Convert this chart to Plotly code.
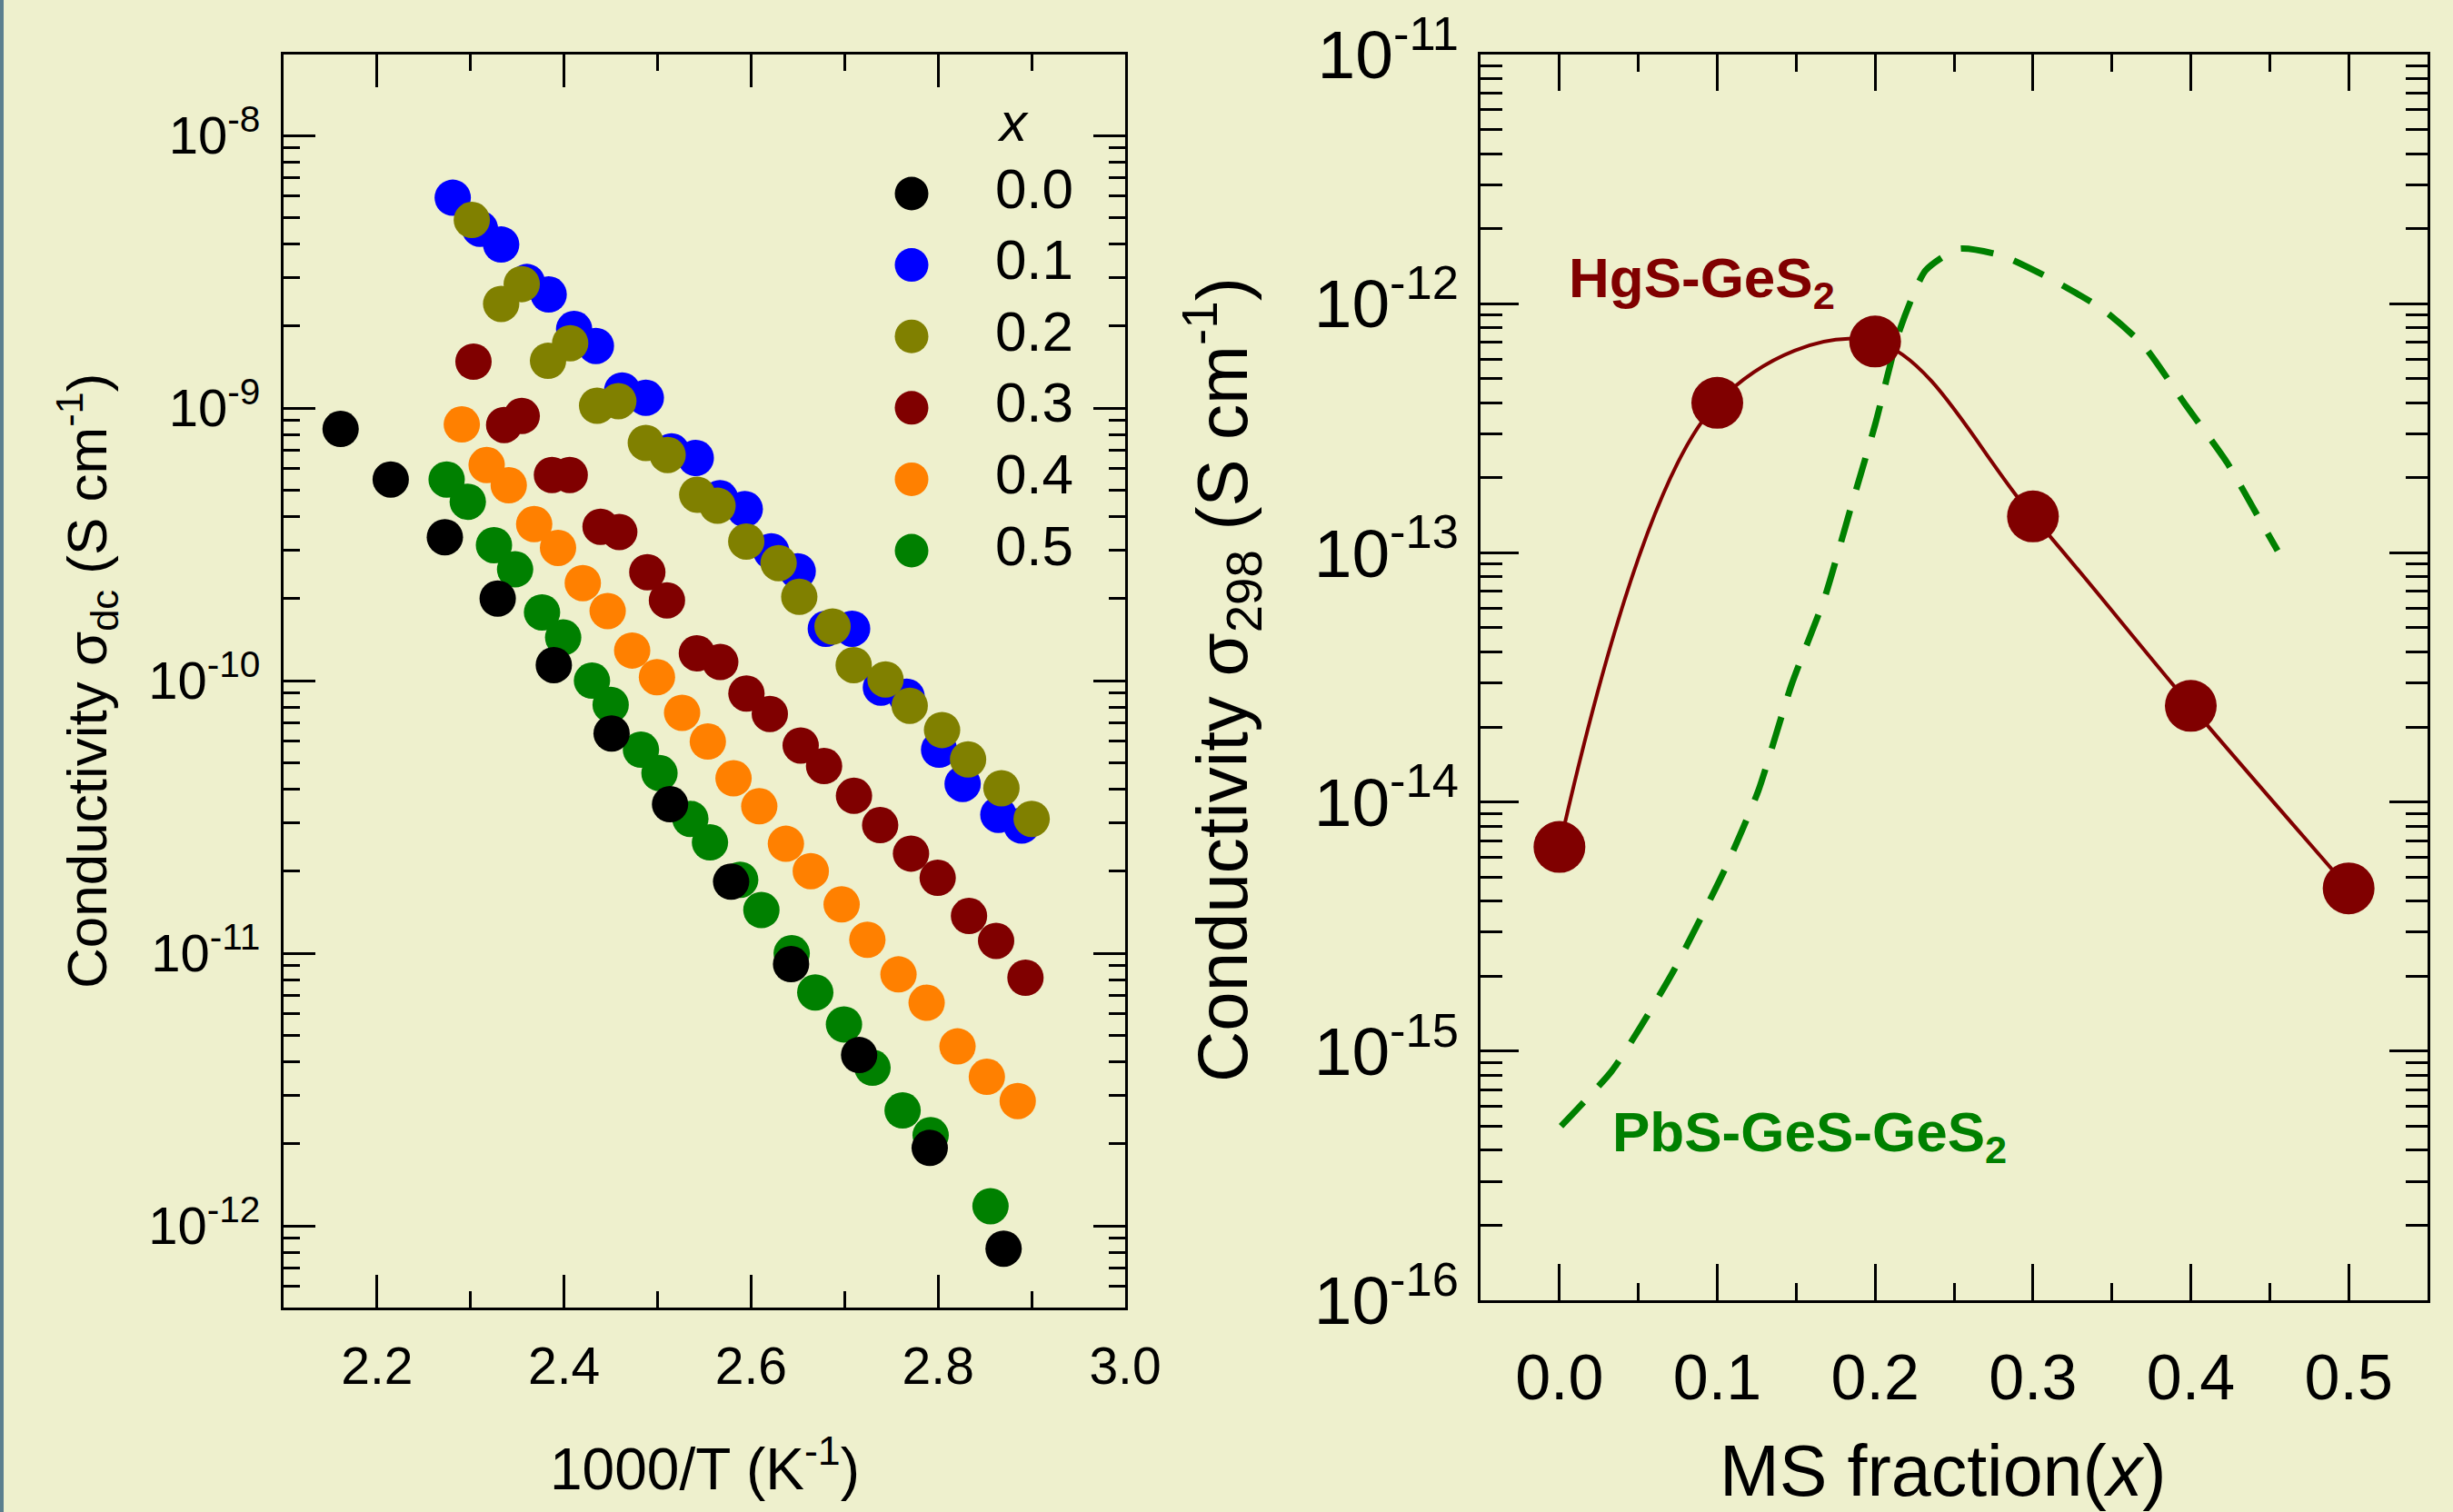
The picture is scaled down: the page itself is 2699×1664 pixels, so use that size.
import plotly.graph_objects as go

W, H = 2699, 1664
BG = "#EEF0CD"
FONT = "Liberation Sans, Arial, sans-serif"

# ---------------- left panel data: 1000/T (K^-1) vs sigma_dc (S/cm) ----------------
x_00 = [2.161, 2.2146, 2.2725, 2.329, 2.389, 2.4508, 2.5133, 2.5786, 2.6427, 2.7155, 2.791, 2.870]
y_00 = [8.38e-10, 5.47e-10, 3.36e-10, 2.00e-10, 1.14e-10, 6.40e-11, 3.52e-11, 1.83e-11,
        9.12e-12, 4.23e-12, 1.93e-12, 8.24e-13]

x_01 = [2.2809, 2.310, 2.3327, 2.3602, 2.3835, 2.4107, 2.434, 2.4621, 2.4874, 2.5149, 2.5408,
        2.5667, 2.5932, 2.6216, 2.6498, 2.6799, 2.708, 2.7388, 2.7663, 2.801, 2.8262, 2.8644, 2.8893]
y_01 = [5.91e-9, 4.55e-9, 3.98e-9, 2.90e-9, 2.61e-9, 1.95e-9, 1.69e-9, 1.16e-9, 1.09e-9, 6.93e-10,
        6.56e-10, 4.67e-10, 4.26e-10, 2.98e-10, 2.52e-10, 1.55e-10, 1.55e-10, 9.43e-11, 8.73e-11,
        5.58e-11, 4.18e-11, 3.22e-11, 2.94e-11]

x_02 = [2.3013, 2.3327, 2.3547, 2.3828, 2.4065, 2.4353, 2.458, 2.4874, 2.5107, 2.5424, 2.5641,
        2.5948, 2.6294, 2.6515, 2.6871, 2.7097, 2.7437, 2.7696, 2.8042, 2.832, 2.8677, 2.900]
y_02 = [4.90e-9, 2.41e-9, 2.85e-9, 1.49e-9, 1.73e-9, 1.02e-9, 1.06e-9, 7.45e-10, 6.73e-10, 4.81e-10,
        4.38e-10, 3.24e-10, 2.70e-10, 2.03e-10, 1.58e-10, 1.14e-10, 1.01e-10, 8.09e-11, 6.59e-11,
        5.14e-11, 4.03e-11, 3.11e-11]

x_03 = [2.3031, 2.3359, 2.3547, 2.387, 2.406, 2.439, 2.459, 2.489, 2.510, 2.542, 2.567,
        2.595, 2.620, 2.653, 2.678, 2.710, 2.738, 2.771, 2.7995, 2.833, 2.862, 2.8934]
y_03 = [1.48e-9, 8.67e-10, 9.35e-10, 5.68e-10, 5.68e-10, 3.67e-10, 3.51e-10, 2.50e-10, 1.97e-10,
        1.26e-10, 1.17e-10, 8.97e-11, 7.55e-11, 5.78e-11, 4.86e-11, 3.78e-11, 2.95e-11, 2.32e-11,
        1.89e-11, 1.37e-11, 1.11e-11, 8.13e-12]

x_04 = [2.2906, 2.3172, 2.3408, 2.368, 2.3935, 2.420, 2.4466, 2.4728, 2.4993, 2.5262, 2.5537,
        2.5812, 2.6087, 2.6372, 2.6638, 2.6968, 2.7243, 2.7576, 2.7877, 2.8207, 2.8521, 2.8851]
y_04 = [8.71e-10, 6.18e-10, 5.21e-10, 3.75e-10, 3.07e-10, 2.28e-10, 1.80e-10, 1.29e-10, 1.03e-10,
        7.62e-11, 5.98e-11, 4.38e-11, 3.46e-11, 2.52e-11, 2.00e-11, 1.51e-11, 1.12e-11, 8.36e-12,
        6.58e-12, 4.55e-12, 3.52e-12, 2.87e-12]

x_05 = [2.2744, 2.297, 2.325, 2.3476, 2.3764, 2.399, 2.4298, 2.4498, 2.4822, 2.502, 2.535,
        2.556, 2.5883, 2.611, 2.6434, 2.6686, 2.6993, 2.7298, 2.762, 2.792, 2.856]
y_05 = [5.47e-10, 4.53e-10, 3.14e-10, 2.56e-10, 1.78e-10, 1.44e-10, 1.00e-10, 8.15e-11, 5.58e-11,
        4.58e-11, 3.11e-11, 2.55e-11, 1.86e-11, 1.44e-11, 1.00e-11, 7.18e-12, 5.48e-12, 3.80e-12,
        2.65e-12, 2.15e-12, 1.18e-12]

legend_labels = ["0.0", "0.1", "0.2", "0.3", "0.4", "0.5"]
legend_colors = ["#000000", "#0000FF", "#808000", "#800000", "#FF8000", "#008000"]

# ---------------- right panel data: MS fraction vs sigma_298 ----------------
frac_hgs = [0.0, 0.1, 0.2, 0.3, 0.4, 0.5]
sig_hgs = [6.6e-15, 4.0e-13, 7.05e-13, 1.40e-13, 2.43e-14, 4.5e-15]

frac_pbs = [0.001, 0.033, 0.051, 0.073, 0.105, 0.126, 0.147, 0.168, 0.184, 0.200, 0.216,
            0.232, 0.253, 0.280, 0.311, 0.344, 0.370, 0.397, 0.423, 0.444, 0.455]
sig_pbs = [5.0e-16, 8.3e-16, 1.24e-15, 2.14e-15, 5.4e-15, 1.11e-14, 2.95e-14, 6.6e-14, 1.47e-13,
           3.27e-13, 7.98e-13, 1.36e-12, 1.66e-12, 1.56e-12, 1.26e-12, 9.5e-13, 6.8e-13, 3.9e-13,
           2.3e-13, 1.35e-13, 1.02e-13]

left_xticks = [2.2, 2.4, 2.6, 2.8, 3.0]
left_xminor = [2.1, 2.3, 2.5, 2.7, 2.9]
left_yexp = [-12, -11, -10, -9, -8]
right_xticks = [0.0, 0.1, 0.2, 0.3, 0.4, 0.5]
right_xminor = [0.05, 0.15, 0.25, 0.35, 0.45]
right_yexp = [-16, -15, -14, -13, -12, -11]


def px(X):
    return X / W


def py(Y):
    return 1 - Y / H


fig = go.Figure()

# left panel scatter series (drawing order: olive above blue, black on top)
draw = [(x_01, y_01, 1), (x_02, y_02, 2), (x_03, y_03, 3), (x_04, y_04, 4), (x_05, y_05, 5), (x_00, y_00, 0)]
for xs, ys, idx in draw:
    fig.add_trace(go.Scatter(x=xs, y=ys, mode="markers", xaxis="x", yaxis="y", showlegend=False,
                             marker=dict(size=40, color=legend_colors[idx], line=dict(width=0))))

# custom legend (large markers) on its own hidden axes
fig.add_trace(go.Scatter(x=[0] * len(legend_labels), y=list(range(len(legend_labels))), mode="markers",
                         xaxis="x3", yaxis="y3", showlegend=False, cliponaxis=False,
                         marker=dict(size=37, color=legend_colors, line=dict(width=0))))
fig.add_trace(go.Scatter(x=[1] * len(legend_labels), y=list(range(len(legend_labels))), mode="text",
                         text=legend_labels, textposition="middle center", xaxis="x3", yaxis="y3",
                         showlegend=False, cliponaxis=False,
                         textfont=dict(size=62, color="black", family=FONT)))

# right panel
fig.add_trace(go.Scatter(x=frac_pbs, y=sig_pbs, mode="lines", xaxis="x2", yaxis="y2", showlegend=False,
                         line=dict(color="#008000", width=7, dash="36px,24px", shape="spline", smoothing=0.6)))
fig.add_trace(go.Scatter(x=frac_hgs, y=sig_hgs, mode="lines+markers", xaxis="x2", yaxis="y2",
                         showlegend=False,
                         line=dict(color="#800000", width=4, shape="spline", smoothing=1.0),
                         marker=dict(size=57, color="#800000", line=dict(width=0))))


def log_minor(e0, e1):
    return [m * 10.0 ** e for e in range(e0, e1) for m in range(2, 10)]


def pow_text(e):
    return "10<sup>%d</sup>" % e


axis_common = dict(showline=True, linecolor="black", linewidth=3, mirror="ticks", ticks="inside",
                   tickwidth=3, tickcolor="black", showgrid=False, zeroline=False, automargin=False)

fig.update_layout(
    width=W, height=H, autosize=False,
    margin=dict(l=0, r=0, t=0, b=0, pad=0, autoexpand=False),
    paper_bgcolor=BG, plot_bgcolor=BG, font=dict(family=FONT, color="black"),
    showlegend=False,
    xaxis=dict(axis_common, domain=[px(312), px(1238)], range=[2.1, 3.0], anchor="y",
               tickmode="array", tickvals=left_xticks, ticktext=["%.1f" % v for v in left_xticks],
               ticklen=36, ticklabelstandoff=13, tickfont=dict(size=57),
               minor=dict(tickmode="array", tickvals=left_xminor, ticks="inside", ticklen=18,
                          tickwidth=3, tickcolor="black", showgrid=False)),
    yaxis=dict(axis_common, domain=[py(1439), py(60)], type="log", range=[-12.3, -7.703], anchor="x",
               tickmode="array", tickvals=[10.0 ** e for e in left_yexp],
               ticktext=[pow_text(e) for e in left_yexp],
               ticklen=35, ticklabelstandoff=11, tickfont=dict(size=58),
               minor=dict(tickmode="array", tickvals=log_minor(-13, -7), ticks="inside", ticklen=18,
                          tickwidth=3, tickcolor="black", showgrid=False)),
    xaxis2=dict(axis_common, domain=[px(1629), px(2671)], range=[-0.05, 0.55], anchor="y2",
                tickmode="array", tickvals=right_xticks, ticktext=["%.1f" % v for v in right_xticks],
                ticklen=40, ticklabelstandoff=22, tickfont=dict(size=70),
                minor=dict(tickmode="array", tickvals=right_xminor, ticks="inside", ticklen=19,
                           tickwidth=3, tickcolor="black", showgrid=False)),
    yaxis2=dict(axis_common, domain=[py(1431), py(60)], type="log", range=[-16, -11], anchor="x2",
                tickmode="array", tickvals=[10.0 ** e for e in right_yexp],
                ticktext=[pow_text(e) for e in right_yexp],
                ticklen=42, ticklabelstandoff=6, tickfont=dict(size=75),
                minor=dict(tickmode="array", tickvals=log_minor(-17, -11), ticks="inside", ticklen=24,
                           tickwidth=3, tickcolor="black", showgrid=False)),
    xaxis3=dict(domain=[px(1003), px(1138)], range=[0, 1], visible=False, anchor="y3", fixedrange=True),
    yaxis3=dict(domain=[py(606), py(213)], range=[5, 0], visible=False, anchor="x3", fixedrange=True),
)

annotations = [
    dict(text="<i>x</i>", x=px(1114), y=py(134), xref="paper", yref="paper", showarrow=False,
         font=dict(size=60, color="black"), xanchor="center", yanchor="middle"),
    dict(text="Conductivity σ<sub>dc</sub> (S cm<sup>-1</sup>)", x=px(95), y=py(750), xref="paper",
         yref="paper", showarrow=False, textangle=-90, font=dict(size=62, color="black"),
         xanchor="center", yanchor="middle"),
    dict(text="1000/T (K<sup>-1</sup>)", x=px(775), y=py(1612), xref="paper", yref="paper",
         showarrow=False, font=dict(size=64, color="black"), xanchor="center", yanchor="middle"),
    dict(text="Conductivity σ<sub>298</sub> (S cm<sup>-1</sup>)", x=px(1345), y=py(748), xref="paper",
         yref="paper", showarrow=False, textangle=-90, font=dict(size=78, color="black"),
         xanchor="center", yanchor="middle"),
    dict(text="MS fraction(<i>x</i>)", x=px(2138), y=py(1618), xref="paper", yref="paper",
         showarrow=False, font=dict(size=79, color="black"), xanchor="center", yanchor="middle"),
    dict(text="<b>HgS-GeS<sub>2</sub></b>", x=px(1872), y=py(310), xref="paper", yref="paper",
         showarrow=False, font=dict(size=62, color="#800000"), xanchor="center", yanchor="middle"),
    dict(text="<b>PbS-GeS-GeS<sub>2</sub></b>", x=px(1991), y=py(1250), xref="paper", yref="paper",
         showarrow=False, font=dict(size=62, color="#008000"), xanchor="center", yanchor="middle"),
]
fig.update_layout(annotations=annotations)

fig.add_shape(type="rect", xref="paper", yref="paper", x0=0, x1=px(4), y0=0, y1=1,
              line=dict(width=0), fillcolor="#5b7f8f", layer="above")

fig.write_html("out.html")
